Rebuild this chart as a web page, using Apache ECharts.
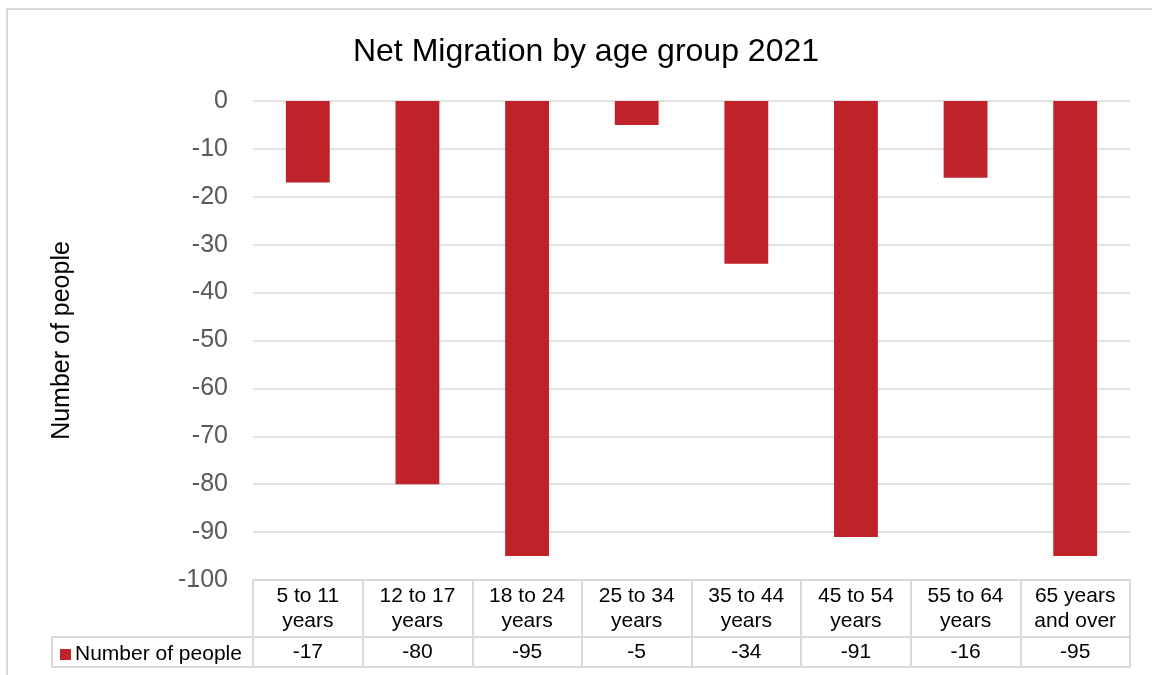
<!doctype html>
<html>
<head>
	<meta charset="utf-8">
	<title>Net Migration by age group 2021</title>
	<script src="https://cdn.jsdelivr.net/npm/echarts@6/dist/echarts.min.js"></script>
	<style>
		html, body { margin: 0; padding: 0; background: #fff; }
	</style>
</head>
<body>
	<div id="chart" style="width: 1152px; height: 675px;"></div>
	<script>
		// data
		var categories = ['5 to 11\nyears', '12 to 17\nyears', '18 to 24\nyears', '25 to 34\nyears',
			'35 to 44\nyears', '45 to 54\nyears', '55 to 64\nyears', '65 years\nand over'];
		var people = [-17, -80, -95, -5, -34, -91, -16, -95];
		var yTicks = {min: -100, max: 0, step: 10};

		var barColor = '#C0222A';
		var lineColor = '#D9D9D9';
		var font = '"Liberation Sans", Arial, sans-serif';

		var chart = document.getElementById('chart');
		var myChart = echarts.init(chart);

		var option = {
			animation: false,
			title: {
				text: 'Net Migration by age group 2021',
				left: 581,
				top: 31,
				textAlign: 'center',
				textStyle: {fontFamily: font, fontSize: 32, fontWeight: 'normal', color: '#000'}
			},
			legend: {
				data: ['Number of people'],
				left: 55,
				top: 639,
				icon: 'rect',
				itemWidth: 11,
				itemHeight: 11,
				itemGap: 4,
				textStyle: {fontFamily: font, fontSize: 21, color: '#000', padding: [0, 0, 0, -1]}
			},
			grid: {left: 253, right: 22, top: 101, bottom: 95},
			xAxis: [
				{
					type: 'category',
					data: categories,
					position: 'bottom',
					axisLine: {onZero: false, lineStyle: {color: lineColor, width: 2}},
					axisTick: {show: true, alignWithLabel: false, length: 87, lineStyle: {color: lineColor, width: 2}},
					axisLabel: {fontFamily: font, fontSize: 21, color: '#000', lineHeight: 25, margin: 4, interval: 0}
				},
				{
					type: 'category',
					data: categories,
					position: 'bottom',
					offset: 57,
					axisLine: {onZero: false, lineStyle: {color: lineColor, width: 2}},
					axisTick: {show: false},
					axisLabel: {
						fontFamily: font, fontSize: 21, color: '#000', lineHeight: 30, margin: 0, interval: 0,
						formatter: function (v, i) { return String(people[i]); }
					}
				},
				{
					type: 'category',
					data: categories,
					position: 'bottom',
					offset: 87,
					axisLine: {onZero: false, lineStyle: {color: lineColor, width: 2}},
					axisTick: {show: false},
					axisLabel: {show: false}
				}
			],
			yAxis: {
				type: 'value',
				name: 'Number of people',
				nameLocation: 'middle',
				nameGap: 178,
				nameTextStyle: {fontFamily: font, fontSize: 25, color: '#000'},
				min: yTicks.min,
				max: yTicks.max,
				interval: yTicks.step,
				axisLine: {show: false},
				axisTick: {show: false},
				axisLabel: {fontFamily: font, fontSize: 25, color: '#595959', margin: 25},
				splitLine: {lineStyle: {color: lineColor, width: 1.5}}
			},
			graphic: [
				{type: 'rect', shape: {x: 7, y: 9, width: 1300, height: 800}, style: {fill: null, stroke: lineColor, lineWidth: 2}, silent: true},
				{type: 'line', shape: {x1: 52, y1: 637, x2: 253, y2: 637}, style: {stroke: lineColor, lineWidth: 2}},
				{type: 'line', shape: {x1: 52, y1: 667, x2: 253, y2: 667}, style: {stroke: lineColor, lineWidth: 2}},
				{type: 'line', shape: {x1: 52, y1: 637, x2: 52, y2: 667}, style: {stroke: lineColor, lineWidth: 2}}
			],
			series: [
				{
					name: 'Number of people',
					type: 'bar',
					data: people,
					barWidth: '40%',
					itemStyle: {color: barColor}
				}
			]
		};

		myChart.setOption(option);
	</script>
</body>
</html>
